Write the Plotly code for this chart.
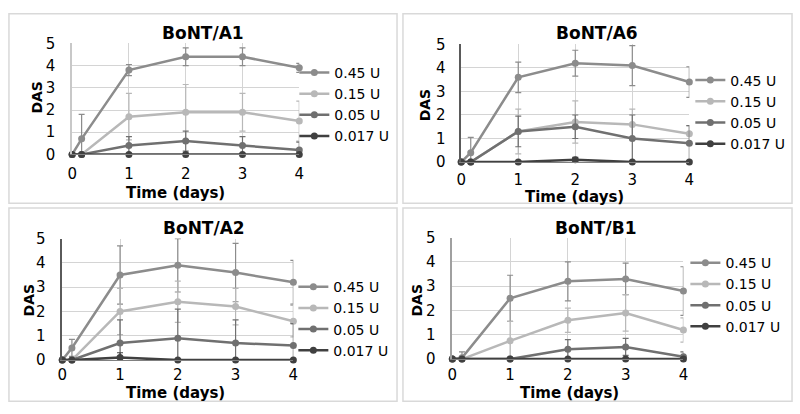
import plotly.graph_objects as go

time_days = [0, 0.167, 1, 2, 3, 4]
doses = ["0.45 U", "0.15 U", "0.05 U", "0.017 U"]
dose_colors = ["#8c8c8c", "#b8b8b8", "#707070", "#404040"]
panel_titles = ["BoNT/A1", "BoNT/A6", "BoNT/A2", "BoNT/B1"]
y_ticks = [0, 1, 2, 3, 4, 5]
x_ticks = [0, 1, 2, 3, 4]

# BoNT/A1
a1_045 = [0, 0.7, 3.8, 4.4, 4.4, 3.9]
a1_015 = [0, 0, 1.7, 1.9, 1.9, 1.5]
a1_005 = [0, 0, 0.4, 0.6, 0.4, 0.2]
a1_0017 = [0, 0, 0, 0, 0, 0]
a1_045_err = [0, 1.1, 0.25, 0.4, 0.4, 0.2]
a1_015_err = [0, 0, 1.05, 1.25, 0.85, 0.9]
a1_005_err = [0, 0, 0.4, 0.45, 0.4, 0.35]
a1_0017_err = [0, 0, 0, 0, 0, 0]

# BoNT/A6
a6_045 = [0, 0.4, 3.6, 4.2, 4.1, 3.4]
a6_015 = [0, 0, 1.3, 1.7, 1.6, 1.2]
a6_005 = [0, 0, 1.3, 1.5, 1.0, 0.8]
a6_0017 = [0, 0, 0, 0.1, 0, 0]
a6_045_err = [0, 0.65, 0.65, 0.55, 0.85, 0.65]
a6_015_err = [0, 0, 0.95, 0.9, 0.65, 0.35]
a6_005_err = [0, 0, 0.65, 0.5, 1.0, 0.75]
a6_0017_err = [0, 0, 0, 0.1, 0, 0]

# BoNT/A2
a2_045 = [0, 0.5, 3.5, 3.9, 3.6, 3.2]
a2_015 = [0, 0, 2.0, 2.4, 2.2, 1.6]
a2_005 = [0, 0, 0.7, 0.9, 0.7, 0.6]
a2_0017 = [0, 0, 0.1, 0, 0, 0]
a2_045_err = [0, 0.35, 1.2, 1.1, 1.2, 0.9]
a2_015_err = [0, 0, 0.95, 0.85, 0.75, 0.65]
a2_005_err = [0, 0, 0.95, 1.2, 0.95, 0.9]
a2_0017_err = [0, 0, 0.2, 0, 0, 0]

# BoNT/B1
b1_045 = [0, 0.05, 2.5, 3.2, 3.3, 2.8]
b1_015 = [0, 0, 0.75, 1.6, 1.9, 1.2]
b1_005 = [0, 0, 0, 0.4, 0.5, 0.1]
b1_0017 = [0, 0, 0, 0, 0, 0]
b1_045_err = [0, 0.25, 0.95, 0.8, 0.65, 1.0]
b1_015_err = [0, 0, 0.8, 0.5, 0.75, 0.5]
b1_005_err = [0, 0, 0, 0.4, 0.35, 0.2]
b1_0017_err = [0, 0, 0, 0, 0, 0]

panel_series = [
    ([a1_045, a1_015, a1_005, a1_0017], [a1_045_err, a1_015_err, a1_005_err, a1_0017_err]),
    ([a6_045, a6_015, a6_005, a6_0017], [a6_045_err, a6_015_err, a6_005_err, a6_0017_err]),
    ([a2_045, a2_015, a2_005, a2_0017], [a2_045_err, a2_015_err, a2_005_err, a2_0017_err]),
    ([b1_045, b1_015, b1_005, b1_0017], [b1_045_err, b1_015_err, b1_005_err, b1_0017_err]),
]

W, H = 800, 414

def px(x):
    return x / W

def py(y):
    return 1 - y / H

layouts = [
    dict(pl=68, pr=298, pt=36, pb=152, box=(4, 5, 397, 203), title=(200, 25),
         xlab=(173, 192), ylab=(32, 92), leg=(293, 50), xstand=6, ystand=12, yline="#c8c8c8"),
    dict(pl=462, pr=693, pt=37, pb=160, box=(403, 5, 797, 203), title=(599, 25),
         xlab=(577, 197), ylab=(425, 100), leg=(694, 58), xstand=4, ystand=11, yline="#5a5a5a"),
    dict(pl=58, pr=292, pt=240, pb=367, box=(4, 208, 397, 410), title=(202, 229),
         xlab=(173, 401), ylab=(24, 304), leg=(292, 274), xstand=1, ystand=12, yline="#5a5a5a"),
    dict(pl=453, pr=687, pt=239, pb=366, box=(403, 208, 797, 410), title=(598, 229),
         xlab=(572, 401), ylab=(417, 304), leg=(689, 249), xstand=2, ystand=12, yline="#a0a0a0"),
]

fig = go.Figure()
font_family = "DejaVu Sans, Arial, sans-serif"
annotations = []
shapes = []

for i, (lay, (series, errs)) in enumerate(zip(layouts, panel_series)):
    k = "" if i == 0 else str(i + 1)
    legname = "legend" + k
    for name, vals, err, col in zip(doses, series, errs, dose_colors):
        fig.add_trace(go.Scatter(
            x=time_days, y=vals, name=name, mode="lines+markers",
            line=dict(color=col, width=2.5),
            marker=dict(color=col, size=7),
            error_y=dict(type="data", array=err, visible=True, color=col,
                         thickness=1.2, width=3),
            xaxis="x" + k, yaxis="y" + k, legend=legname, cliponaxis=False,
        ))
    fig.layout["xaxis" + k] = dict(
        domain=[px(lay["pl"]), px(lay["pr"])], range=[0, 4], anchor="y" + k,
        tickvals=x_ticks, showgrid=True, gridcolor="#d4d4d4", gridwidth=1,
        zeroline=False, showline=True, linecolor="#808080", linewidth=1,
        ticks="", ticklabelstandoff=lay["xstand"],
        tickfont=dict(family=font_family, size=15, color="#000000"),
    )
    fig.layout["yaxis" + k] = dict(
        domain=[py(lay["pb"]), py(lay["pt"])], range=[0, 5], anchor="x" + k,
        tickvals=y_ticks, showgrid=True, gridcolor="#d4d4d4", gridwidth=1,
        zeroline=False, showline=True, linecolor=lay["yline"], linewidth=1.5,
        ticks="", ticklabelstandoff=lay["ystand"],
        tickfont=dict(family=font_family, size=15, color="#000000"),
    )
    fig.layout[legname] = dict(
        x=px(lay["leg"][0]), y=py(lay["leg"][1]), xanchor="left", yanchor="top",
        bgcolor="rgba(0,0,0,0)", itemwidth=30, tracegroupgap=0,
        font=dict(family=font_family, size=14, color="#000000"),
    )
    x0, y0, x1, y1 = lay["box"]
    shapes.append(dict(type="rect", xref="paper", yref="paper",
                       x0=px(x0), x1=px(x1), y0=py(y1), y1=py(y0),
                       line=dict(color="#d9d9d9", width=1.5), layer="below"))
    annotations.append(dict(text="<b>" + panel_titles[i] + "</b>", xref="paper", yref="paper",
                            x=px(lay["title"][0]), y=py(lay["title"][1]), showarrow=False,
                            xanchor="center", yanchor="middle",
                            font=dict(family=font_family, size=17, color="#000000")))
    annotations.append(dict(text="<b>Time (days)</b>", xref="paper", yref="paper",
                            x=px(lay["xlab"][0]), y=py(lay["xlab"][1]), showarrow=False,
                            xanchor="center", yanchor="middle",
                            font=dict(family=font_family, size=15, color="#000000")))
    annotations.append(dict(text="<b>DAS</b>", xref="paper", yref="paper",
                            x=px(lay["ylab"][0]), y=py(lay["ylab"][1]), showarrow=False,
                            xanchor="center", yanchor="middle", textangle=-90,
                            font=dict(family=font_family, size=14, color="#000000")))

fig.update_layout(
    width=W, height=H, margin=dict(l=0, r=0, t=0, b=0),
    paper_bgcolor="#ffffff", plot_bgcolor="#ffffff",
    showlegend=True, shapes=shapes, annotations=annotations,
)

fig.write_html("out.html", config={"displayModeBar": False},
               post_script="document.body.style.margin='0';document.body.style.overflow='hidden';")
